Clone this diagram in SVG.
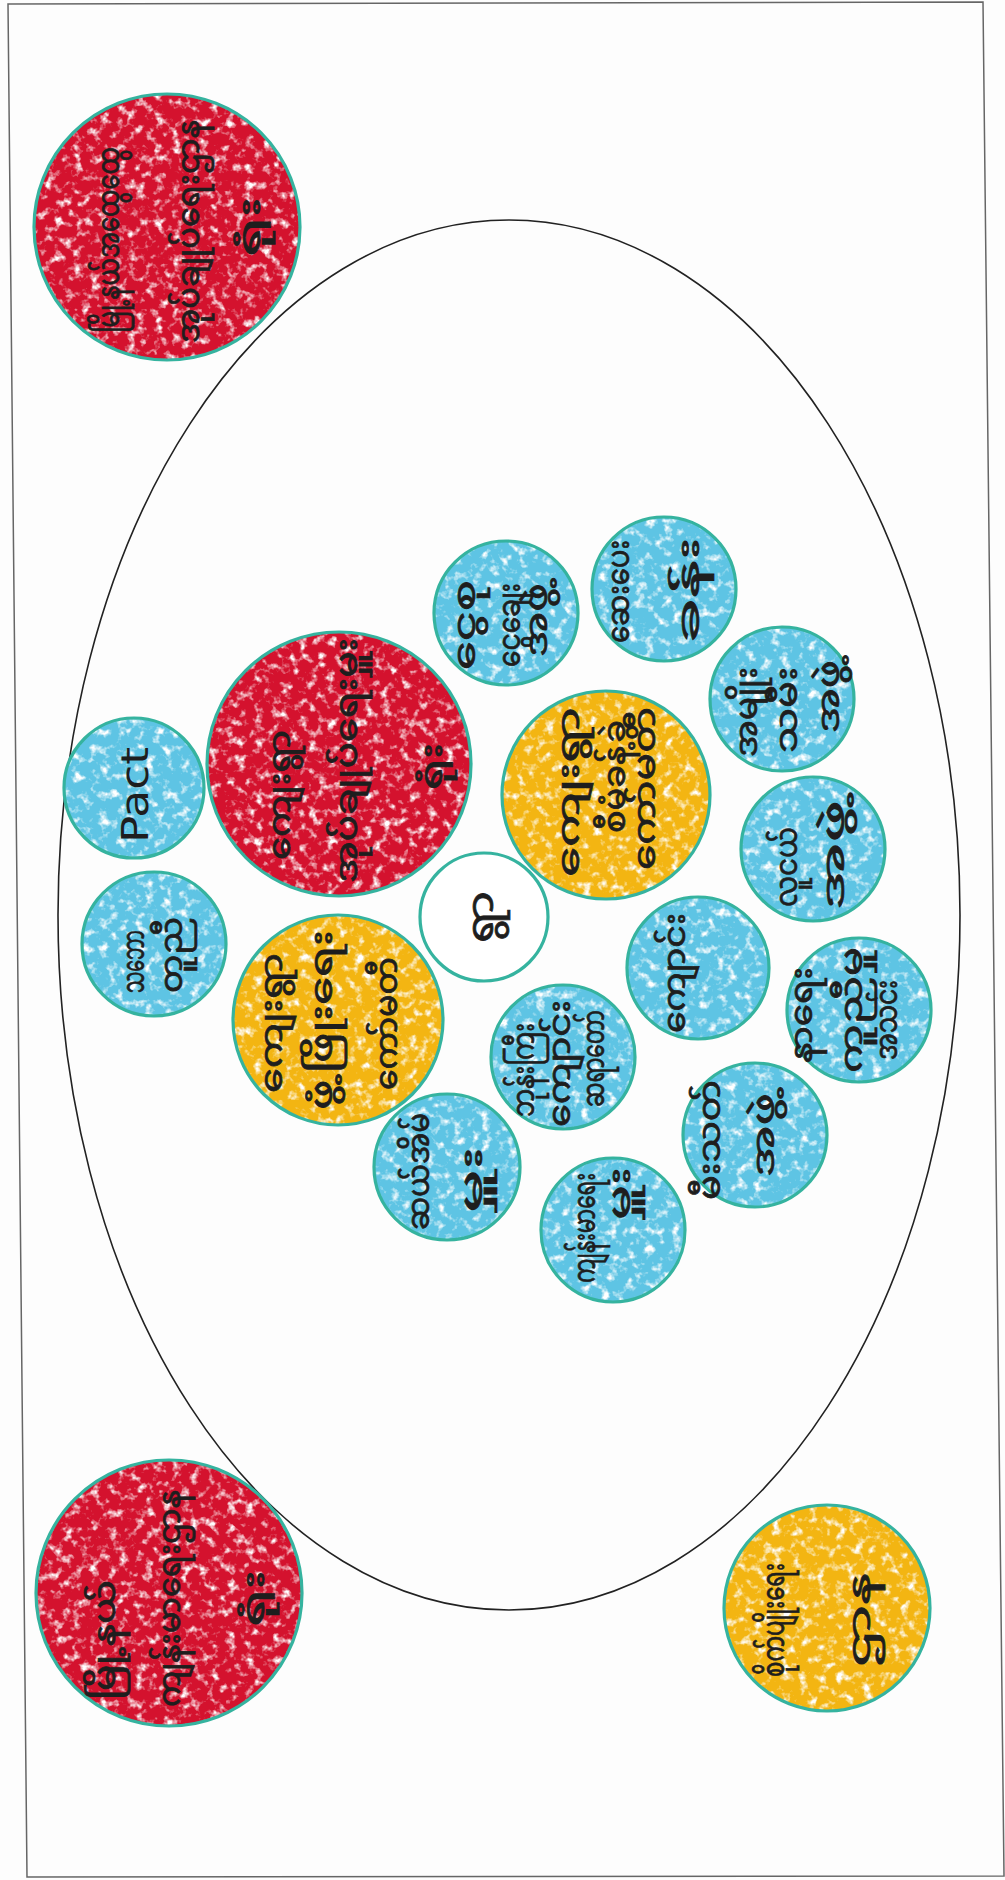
<svg xmlns="http://www.w3.org/2000/svg" width="1005" height="1880" viewBox="0 0 1005 1880">
<defs>
<filter id="crayon" x="-5%" y="-5%" width="110%" height="110%" color-interpolation-filters="sRGB">
<feTurbulence type="fractalNoise" baseFrequency="0.11" numOctaves="3" seed="7" result="n"/>
<feColorMatrix in="n" type="matrix" values="0 0 0 0 1  0 0 0 0 1  0 0 0 0 1  3.6 0 0 0 -1.85" result="w"/>
<feComposite in="w" in2="SourceAlpha" operator="in" result="wi"/>
<feMerge><feMergeNode in="SourceGraphic"/><feMergeNode in="wi"/></feMerge>
</filter>
<style>
.o{fill:none;stroke:#35b39f;stroke-width:3.2}
.red{fill:#d4122e;filter:url(#crayon)}
.blue{fill:#5ec4e4;filter:url(#crayon)}
.yel{fill:#f3b512;filter:url(#crayon)}
.wht{fill:#ffffff}
.t{font-family:"Noto Sans Myanmar","Padauk","Myanmar Text","Noto Sans","DejaVu Sans",sans-serif;font-size:30px;fill:#1e1e1e;stroke:#1e1e1e;stroke-width:0.7;dominant-baseline:central}
.en{font-family:"DejaVu Sans",sans-serif;font-size:38px;fill:#1e1e1e;dominant-baseline:central}
</style>
</defs>
<rect x="0" y="0" width="1005" height="1880" fill="#fdfdfd"/>
<polygon points="8,4 983,2 1004,1876 27,1877" fill="none" stroke="#666" stroke-width="1.5"/>
<ellipse id="village" cx="509" cy="915" rx="451" ry="695" fill="none" stroke="#222" stroke-width="1.6"/>

<g id="red-topleft">
<circle class="red" cx="167" cy="227" r="133"/><circle class="o" cx="167" cy="227" r="133"/>
<text class="t" transform="translate(112,333) rotate(-90)" textLength="186" lengthAdjust="spacingAndGlyphs">မြို့နယ်အထွေထွေ</text>
<text class="t" transform="translate(192,343) rotate(-90)" textLength="223" lengthAdjust="spacingAndGlyphs">အုပ်ချုပ်ရေးဌာန</text>
<text class="t" transform="translate(253,257) rotate(-90)" textLength="60" lengthAdjust="spacingAndGlyphs">ရုံး</text>
</g>

<g id="red-bottomleft">
<circle class="red" cx="169" cy="1593" r="133"/><circle class="o" cx="169" cy="1593" r="133"/>
<text class="t" transform="translate(108,1700) rotate(-90)" textLength="120" lengthAdjust="spacingAndGlyphs">မြို့နယ်</text>
<text class="t" transform="translate(173,1707) rotate(-90)" textLength="217" lengthAdjust="spacingAndGlyphs">ကျန်းမာရေးဌာန</text>
<text class="t" transform="translate(257,1627) rotate(-90)" textLength="57" lengthAdjust="spacingAndGlyphs">ရုံး</text>
</g>

<g id="yellow-outside">
<circle class="yel" cx="827" cy="1608" r="103"/><circle class="o" cx="827" cy="1608" r="103"/>
<text class="t" transform="translate(777,1677) rotate(-90)" textLength="114" lengthAdjust="spacingAndGlyphs">စိုက်ပျိုးရေး</text>
<text class="t" transform="translate(863,1667) rotate(-90)" textLength="94" lengthAdjust="spacingAndGlyphs">ဌာန</text>
</g>

<g id="pact">
<circle class="blue" cx="134" cy="788" r="70"/><circle class="o" cx="134" cy="788" r="70"/>
<text class="en" transform="translate(135,843) rotate(-90)" textLength="96" lengthAdjust="spacingAndGlyphs">Pact</text>
</g>

<g id="blue-k">
<circle class="blue" cx="154" cy="944" r="72"/><circle class="o" cx="154" cy="944" r="72"/>
<text class="t" transform="translate(137,993) rotate(-90)" textLength="63" lengthAdjust="spacingAndGlyphs">သဘော</text>
<text class="t" transform="translate(175,993) rotate(-90)" textLength="76" lengthAdjust="spacingAndGlyphs">တူညီ</text>
</g>

<g id="red-center">
<circle class="red" cx="339" cy="764" r="132"/><circle class="o" cx="339" cy="764" r="132"/>
<text class="t" transform="translate(283,860) rotate(-90)" textLength="130" lengthAdjust="spacingAndGlyphs">ကျေးရွာ</text>
<text class="t" transform="translate(350,883) rotate(-90)" textLength="245" lengthAdjust="spacingAndGlyphs">အုပ်ချုပ်ရေးမှူး</text>
<text class="t" transform="translate(435,790) rotate(-90)" textLength="47" lengthAdjust="spacingAndGlyphs">ရုံး</text>
</g>

<g id="white-center">
<circle class="wht" cx="484" cy="917" r="64"/><circle class="o" cx="484" cy="917" r="64"/>
<text class="t" transform="translate(484,943) rotate(-90)" textLength="52" lengthAdjust="spacingAndGlyphs" style="font-size:36px">ရွာ</text>
</g>

<g id="yellow-left">
<circle class="yel" cx="338" cy="1020" r="105"/><circle class="o" cx="338" cy="1020" r="105"/>
<text class="t" transform="translate(275,1093) rotate(-90)" textLength="140" lengthAdjust="spacingAndGlyphs">ကျေးရွာ</text>
<text class="t" transform="translate(325,1110) rotate(-90)" textLength="180" lengthAdjust="spacingAndGlyphs">ဖွံ့ဖြိုးရေး</text>
<text class="t" transform="translate(390,1090) rotate(-90)" textLength="133" lengthAdjust="spacingAndGlyphs">ကော်မတီ</text>
</g>

<g id="yellow-right">
<circle class="yel" cx="606" cy="795" r="104"/><circle class="o" cx="606" cy="795" r="104"/>
<text class="t" transform="translate(572,877) rotate(-90)" textLength="170" lengthAdjust="spacingAndGlyphs">ကျေးရွာ</text>
<text class="t" transform="translate(618,833) rotate(-90)" textLength="113" lengthAdjust="spacingAndGlyphs">စီမံခန့်ခွဲ</text>
<text class="t" transform="translate(648,870) rotate(-90)" textLength="163" lengthAdjust="spacingAndGlyphs">ကော်မတီ</text>
</g>

<g id="blue-a">
<circle class="blue" cx="506" cy="613" r="72"/><circle class="o" cx="506" cy="613" r="72"/>
<text class="t" transform="translate(468,670) rotate(-90)" textLength="90" lengthAdjust="spacingAndGlyphs">ငွေစု</text>
<text class="t" transform="translate(513,667) rotate(-90)" textLength="84" lengthAdjust="spacingAndGlyphs">ငွေချေး</text>
<text class="t" transform="translate(540,657) rotate(-90)" textLength="74" lengthAdjust="spacingAndGlyphs">အဖွဲ့</text>
</g>

<g id="blue-b">
<circle class="blue" cx="664" cy="589" r="72"/><circle class="o" cx="664" cy="589" r="72"/>
<text class="t" transform="translate(622,643) rotate(-90)" textLength="103" lengthAdjust="spacingAndGlyphs">ဆေးပေး</text>
<text class="t" transform="translate(692,643) rotate(-90)" textLength="106" lengthAdjust="spacingAndGlyphs">ခန်း</text>
</g>

<g id="blue-c">
<circle class="blue" cx="782" cy="699" r="72"/><circle class="o" cx="782" cy="699" r="72"/>
<text class="t" transform="translate(750,757) rotate(-90)" textLength="90" lengthAdjust="spacingAndGlyphs">အမျိုး</text>
<text class="t" transform="translate(790,753) rotate(-90)" textLength="86" lengthAdjust="spacingAndGlyphs">သမီး</text>
<text class="t" transform="translate(832,733) rotate(-90)" textLength="73" lengthAdjust="spacingAndGlyphs">အဖွဲ့</text>
</g>

<g id="blue-d">
<circle class="blue" cx="813" cy="849" r="72"/><circle class="o" cx="813" cy="849" r="72"/>
<text class="t" transform="translate(790,907) rotate(-90)" textLength="80" lengthAdjust="spacingAndGlyphs">လူငယ်</text>
<text class="t" transform="translate(837,910) rotate(-90)" textLength="110" lengthAdjust="spacingAndGlyphs">အဖွဲ့</text>
</g>

<g id="blue-e">
<circle class="blue" cx="859" cy="1010" r="72"/><circle class="o" cx="859" cy="1010" r="72"/>
<text class="t" transform="translate(805,1063) rotate(-90)" textLength="96" lengthAdjust="spacingAndGlyphs">နာရေး</text>
<text class="t" transform="translate(855,1073) rotate(-90)" textLength="126" lengthAdjust="spacingAndGlyphs">ကူညီမှု</text>
<text class="t" transform="translate(890,1060) rotate(-90)" textLength="80" lengthAdjust="spacingAndGlyphs">အသင်း</text>
</g>

<g id="blue-f">
<circle class="blue" cx="698" cy="968" r="71"/><circle class="o" cx="698" cy="968" r="71"/>
<text class="t" transform="translate(678,1033) rotate(-90)" textLength="120" lengthAdjust="spacingAndGlyphs">ကျောင်း</text>
</g>

<g id="blue-g">
<circle class="blue" cx="563" cy="1057" r="72"/><circle class="o" cx="563" cy="1057" r="72"/>
<text class="t" transform="translate(527,1117) rotate(-90)" textLength="94" lengthAdjust="spacingAndGlyphs">ဘုန်းကြီး</text>
<text class="t" transform="translate(563,1127) rotate(-90)" textLength="127" lengthAdjust="spacingAndGlyphs">ကျောင်း</text>
<text class="t" transform="translate(597,1107) rotate(-90)" textLength="97" lengthAdjust="spacingAndGlyphs">ဆရာတော်</text>
</g>

<g id="blue-h">
<circle class="blue" cx="447" cy="1167" r="73"/><circle class="o" cx="447" cy="1167" r="73"/>
<text class="t" transform="translate(422,1230) rotate(-90)" textLength="117" lengthAdjust="spacingAndGlyphs">ဆယ်အိမ်</text>
<text class="t" transform="translate(475,1213) rotate(-90)" textLength="66" lengthAdjust="spacingAndGlyphs">မှူး</text>
</g>

<g id="blue-i">
<circle class="blue" cx="755" cy="1135" r="72"/><circle class="o" cx="755" cy="1135" r="72"/>
<text class="t" transform="translate(713,1200) rotate(-90)" textLength="120" lengthAdjust="spacingAndGlyphs">မီးသတ်</text>
<text class="t" transform="translate(767,1177) rotate(-90)" textLength="84" lengthAdjust="spacingAndGlyphs">အဖွဲ့</text>
</g>

<g id="blue-j">
<circle class="blue" cx="613" cy="1230" r="72"/><circle class="o" cx="613" cy="1230" r="72"/>
<text class="t" transform="translate(588,1283) rotate(-90)" textLength="110" lengthAdjust="spacingAndGlyphs">ကျန်းမာရေး</text>
<text class="t" transform="translate(623,1220) rotate(-90)" textLength="53" lengthAdjust="spacingAndGlyphs">မှူး</text>
</g>
</svg>
